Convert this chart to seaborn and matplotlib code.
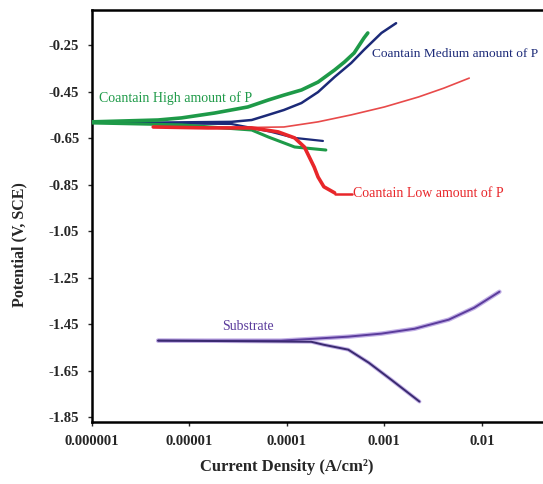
import numpy as np
import pandas as pd
import matplotlib
matplotlib.use("Agg")
import matplotlib.pyplot as plt
import seaborn as sns

# ---- data ----
# log10 current density (A/cm2) and potential (V vs SCE)
high_anodic_logx = [-6.0, -5.32, -5.08, -4.74, -4.40, -4.19, -4.03, -3.85, -3.68, -3.51, -3.41, -3.31, -3.21, -3.17]
high_anodic_y = [-0.580, -0.572, -0.563, -0.542, -0.516, -0.486, -0.465, -0.443, -0.409, -0.357, -0.323, -0.284, -0.220, -0.198]
high_cathodic_logx = [-6.0, -5.08, -4.36, -4.19, -3.92, -3.60]
high_cathodic_y = [-0.585, -0.593, -0.615, -0.645, -0.688, -0.701]

med_anodic_logx = [-5.77, -4.57, -4.36, -4.19, -4.03, -3.85, -3.68, -3.51, -3.34, -3.21, -3.03, -2.88]
med_anodic_y = [-0.585, -0.580, -0.572, -0.550, -0.529, -0.499, -0.452, -0.387, -0.327, -0.271, -0.198, -0.156]
med_cathodic_logx = [-5.77, -4.57, -4.36, -4.16, -3.92, -3.63]
med_cathodic_y = [-0.585, -0.589, -0.606, -0.623, -0.649, -0.662]

low_anodic_logx = [-5.37, -4.36, -4.03, -3.68, -3.34, -3.00, -2.65, -2.39, -2.13]
low_anodic_y = [-0.602, -0.604, -0.602, -0.580, -0.550, -0.516, -0.473, -0.435, -0.392]
low_cathodic_logx = [-5.37, -4.81, -4.36, -4.09, -3.92, -3.82, -3.77, -3.72, -3.68, -3.62, -3.51]
low_cathodic_y = [-0.602, -0.606, -0.606, -0.623, -0.649, -0.688, -0.731, -0.774, -0.817, -0.859, -0.885]

sub_anodic_logx = [-5.32, -4.06, -3.72, -3.37, -3.03, -2.69, -2.34, -2.08, -1.82]
sub_anodic_y = [-1.520, -1.520, -1.512, -1.503, -1.490, -1.469, -1.430, -1.379, -1.310]
sub_cathodic_logx = [-5.32, -3.75, -3.62, -3.37, -3.16, -2.93, -2.64]
sub_cathodic_y = [-1.520, -1.525, -1.538, -1.559, -1.615, -1.688, -1.782]

y_ticks = [-0.25, -0.45, -0.65, -0.85, -1.05, -1.25, -1.45, -1.65, -1.85]
y_tick_labels = ["-0.25", "-0.45", "-0.65", "-0.85", "-1.05", "-1.25", "-1.45", "-1.65", "-1.85"]
x_ticks = [1e-6, 1e-5, 1e-4, 1e-3, 1e-2]
x_tick_labels = ["0.000001", "0.00001", "0.0001", "0.001", "0.01"]

labels = ["Coantain High amount of P", "Coantain Medium amount of P",
          "Coantain Low amount of P", "Substrate"]

# ---- style ----
sns.set_style("ticks")
plt.rcParams['font.family'] = ['Liberation Serif', 'DejaVu Serif']

fig = plt.figure(figsize=(5.43, 4.84), dpi=100)
ax = fig.add_axes([0.169, 0.128, 0.831, 0.851])

green = "#1e9a48"
blue = "#1c2a78"
red = "#e8262a"
purple = "#5b3c9c"


def branch(lx, y, color, lw, z):
    sns.lineplot(x=10 ** np.array(lx), y=y, sort=False, estimator=None,
                 color=color, lw=lw, ax=ax, zorder=z)


branch(sub_anodic_logx, sub_anodic_y, "#c2b0e6", 3.2, 1)
branch(sub_anodic_logx, sub_anodic_y, purple, 1.4, 2)
branch(sub_cathodic_logx, sub_cathodic_y, "#c2b0e6", 2.8, 1)
branch(sub_cathodic_logx, sub_cathodic_y, "#3a2a70", 1.4, 2)

branch(low_anodic_logx, low_anodic_y, "#e84a4a", 1.2, 2)
branch(med_anodic_logx, med_anodic_y, blue, 1.8, 3)
branch(med_cathodic_logx, med_cathodic_y, blue, 1.6, 3)
branch(high_anodic_logx, high_anodic_y, green, 2.6, 4)
branch(high_cathodic_logx, high_cathodic_y, green, 2.2, 4)
branch(low_cathodic_logx, low_cathodic_y, red, 2.6, 5)

ax.set_xscale("log")
ax.set_xlim(1e-6, 0.0423)
ax.set_ylim(-1.87, -0.10)

ax.set_xticks(x_ticks)
ax.set_xticklabels(x_tick_labels)
ax.set_yticks(y_ticks)
ax.set_yticklabels(y_tick_labels)
ax.minorticks_off()
ax.tick_params(axis="both", length=3, width=1, labelsize=10.5, pad=6)
for t in ax.get_xticklabels() + ax.get_yticklabels():
    t.set_fontweight("bold")

for s in ["left", "bottom", "top"]:
    ax.spines[s].set_linewidth(1.8)
    ax.spines[s].set_color("black")
ax.spines["right"].set_visible(False)

ax.set_xlabel("Current Density (A/cm²)", fontsize=12, fontweight="bold")
ax.set_ylabel("Potential (V, SCE)", fontsize=11.5, fontweight="bold")
ax.xaxis.set_label_coords(0.432, -0.09)
ax.yaxis.set_label_coords(-0.142, 0.43)

ax.text(1.19e-6, -0.477, labels[0], color=green, fontsize=10, va="center", ha="left")
ax.text(7.4e-4, -0.289, labels[1], color=blue, fontsize=9.6, va="center", ha="left")
ax.plot([10 ** -3.51, 4.7e-4], [-0.889, -0.889], color=red, lw=1.8)
ax.text(4.8e-4, -0.889, labels[2], color=red, fontsize=10, va="center", ha="left")
ax.text(4.0e-5, -1.460, labels[3], color=purple, fontsize=10, va="center", ha="center")

fig.savefig("out.png", dpi=100)
